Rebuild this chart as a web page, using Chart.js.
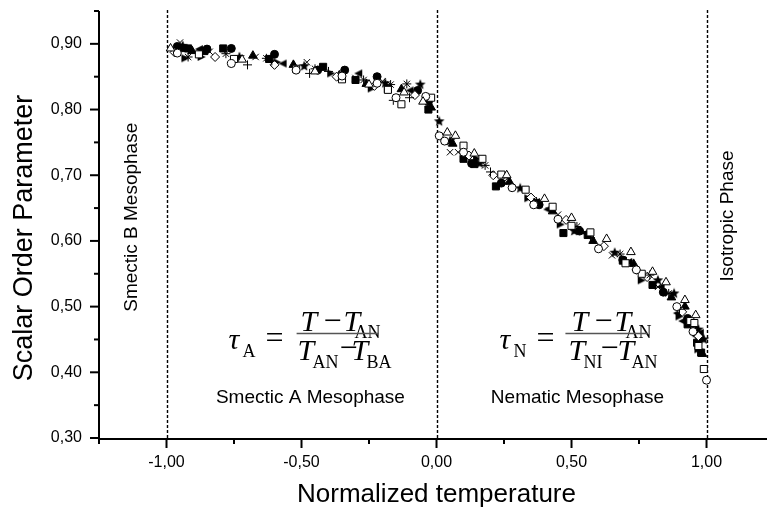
<!DOCTYPE html>
<html><head><meta charset="utf-8">
<script src="https://cdn.jsdelivr.net/npm/chart.js@4"></script>
<style>html,body{margin:0;padding:0;background:#fff;overflow:hidden}canvas{display:block}</style>
</head><body>
<canvas id="c" width="767" height="514"></canvas>
<script>
// ---- tick values ----
const xMajorTicks = [-1, -0.5, 0, 0.5, 1];
const xMinorTicks = [-1.25, -0.75, -0.25, 0.25, 0.75];
const yMajorTicks = [0.3, 0.4, 0.5, 0.6, 0.7, 0.8, 0.9];
const yMinorTicks = [0.35, 0.45, 0.55, 0.65, 0.75, 0.85, 0.95];
const phaseBoundaries = [-1, 0, 1];

// ---- series values [normalized temperature, order parameter] ----
const openTriangle = [[-0.985,0.893],[-0.72,0.876],[-0.45,0.858],[-0.25,0.838],[-0.12,0.826],[-0.05,0.812],
  [0.04,0.765],[0.07,0.760],[0.14,0.733],[0.26,0.700],[0.40,0.664],[0.50,0.635],[0.63,0.603],[0.72,0.583],[0.80,0.553],[0.85,0.537],[0.92,0.510],[0.96,0.487]];
const openCircle = [[-0.96,0.886],[-0.76,0.870],[-0.52,0.860],[-0.35,0.851],[-0.22,0.840],[-0.15,0.818],[-0.04,0.820],
  [0.01,0.760],[0.03,0.752],[0.10,0.735],[0.28,0.681],[0.36,0.655],[0.45,0.633],[0.60,0.588],[0.74,0.556],[0.89,0.500],[0.95,0.462],[1.0,0.388]];
const openSquare = [[-0.88,0.884],[-0.75,0.877],[-0.52,0.862],[-0.35,0.846],[-0.18,0.830],[-0.13,0.808],[-0.02,0.818],
  [0.10,0.745],[0.17,0.725],[0.24,0.701],[0.33,0.678],[0.43,0.652],[0.50,0.623],[0.57,0.613],[0.70,0.566],[0.76,0.550],[0.94,0.478],[0.955,0.475],[0.97,0.440],[0.99,0.405]];
const xCross = [[-0.95,0.902],[-0.84,0.888],[-0.67,0.880],[-0.48,0.872],[-0.30,0.848],[-0.20,0.843],
  [0.05,0.735],[0.08,0.735],[0.25,0.690],[0.45,0.640],[0.65,0.578],[0.82,0.530]];
const asterisk = [[-0.92,0.880],[-0.78,0.885],[-0.63,0.878],[-0.45,0.862],[-0.27,0.845],[-0.17,0.838],[-0.11,0.839],
  [0.18,0.715],[0.37,0.660],[0.52,0.622],[0.68,0.580],[0.79,0.548],[0.86,0.520],[0.95,0.470]];
const plusMark = [[-0.70,0.868],[-0.61,0.874],[-0.47,0.855],[-0.40,0.858],[-0.16,0.814],[-0.10,0.818],
  [0.20,0.705],[0.42,0.650],[0.57,0.605],[0.74,0.556],[0.90,0.496]];
const openDiamond = [[-0.97,0.887],[-0.82,0.880],[-0.60,0.868],[-0.37,0.850],[-0.23,0.836],[-0.08,0.822],
  [0.12,0.730],[0.21,0.700],[0.35,0.666],[0.48,0.632],[0.62,0.592],[0.78,0.545],[0.91,0.492],[0.97,0.455]];
const filledCircle = [[-0.96,0.896],[-0.85,0.892],[-0.76,0.893],[-0.60,0.884],[-0.44,0.860],[-0.34,0.860],[-0.22,0.850],[-0.07,0.829],[-0.03,0.812],
  [0.13,0.718],[0.24,0.688],[0.38,0.655],[0.53,0.615],[0.69,0.571],[0.84,0.522],[0.93,0.482],[0.955,0.468],[0.975,0.452]];
const filledSquare = [[-0.92,0.893],[-0.86,0.889],[-0.79,0.893],[-0.62,0.877],[-0.42,0.865],[-0.30,0.845],[-0.18,0.831],[-0.03,0.800],
  [0.10,0.725],[0.14,0.717],[0.22,0.683],[0.37,0.658],[0.47,0.612],[0.56,0.609],[0.69,0.570],[0.80,0.533],[0.93,0.473],[0.965,0.445],[0.98,0.430]];
const filledTriangle = [[-0.94,0.892],[-0.905,0.889],[-0.68,0.882],[-0.53,0.868],[-0.36,0.852],[-0.26,0.839],[-0.13,0.831],[-0.02,0.803],
  [0.06,0.748],[0.27,0.690],[0.43,0.645],[0.58,0.600],[0.73,0.565],[0.87,0.514],[0.92,0.500],[0.945,0.476],[0.985,0.428]];
const rightTriangle = [[-0.93,0.878],[-0.87,0.880],[-0.59,0.872],[-0.39,0.855],[-0.24,0.832],
  [0.15,0.725],[0.34,0.665],[0.46,0.625],[0.61,0.590],[0.76,0.540],[0.90,0.485],[0.97,0.435]];
const leftTriangle = [[-0.88,0.892],[-0.57,0.870],[-0.29,0.855],[-0.10,0.829],
  [0.25,0.700],[0.41,0.648],[0.55,0.612],[0.71,0.568],[0.83,0.530],[0.89,0.490],[0.91,0.478],[0.96,0.455],[0.975,0.460]];
const filledStar = [[-0.94,0.897],[-0.73,0.880],[-0.49,0.866],[-0.19,0.840],[-0.06,0.838],
  [0.01,0.782],[0.05,0.752],[0.16,0.718],[0.31,0.680],[0.51,0.615],[0.66,0.582],[0.82,0.540],[0.88,0.520],[0.97,0.465],[0.99,0.450]];

// ---- custom marker images ----
function markerCanvas(size, drawFn){
  const cv = document.createElement('canvas'); cv.width = size; cv.height = size;
  const g = cv.getContext('2d'); g.fillStyle = '#000'; drawFn(g, size); return cv;
}
const starImg = markerCanvas(12, (g,s)=>{ const c=s/2, R=5.6, r=2.4; g.beginPath();
  for(let i=0;i<10;i++){ const a=-Math.PI/2+i*Math.PI/5, rr=i%2?r:R; g.lineTo(c+rr*Math.cos(a), c+rr*Math.sin(a)); }
  g.closePath(); g.fill(); });
const rightTriImg = markerCanvas(10, (g,s)=>{ g.beginPath(); g.moveTo(1,1); g.lineTo(9,5); g.lineTo(1,9); g.closePath(); g.fill(); });
const leftTriImg = markerCanvas(10, (g,s)=>{ g.beginPath(); g.moveTo(9,1); g.lineTo(1,5); g.lineTo(9,9); g.closePath(); g.fill(); });

function ds(label, data, style, radius, filled){
  return { label, data: data.map(p=>({x:p[0], y:p[1]})), pointStyle: style, pointRadius: radius,
    pointHoverRadius: radius, showLine:false, borderWidth:1, pointBorderWidth:1,
    borderColor:'#000', backgroundColor: filled ? '#000' : '#fff' };
}
const datasets = [
  ds('open triangle', openTriangle, 'triangle', 5, false),
  ds('open circle', openCircle, 'circle', 4, false),
  ds('open square', openSquare, 'rect', 5, false),
  ds('cross', xCross, 'crossRot', 4.5, false),
  ds('asterisk', asterisk, 'star', 4.5, false),
  ds('plus', plusMark, 'cross', 4.5, false),
  ds('open diamond', openDiamond, 'rectRot', 4.5, false),
  ds('filled circle', filledCircle, 'circle', 4, true),
  ds('filled square', filledSquare, 'rect', 5, true),
  ds('filled triangle', filledTriangle, 'triangle', 5, true),
  ds('right triangle', rightTriangle, rightTriImg, 5, true),
  ds('left triangle', leftTriangle, leftTriImg, 5, true),
  ds('filled star', filledStar, starImg, 5.5, true)
];

const fmt = v => v.toFixed(2).replace('.', ',');
const SANS = '"Liberation Sans", Arial, sans-serif';
const SERIF = '"Liberation Serif", "Times New Roman", serif';

function drawFormula(ctx, x0, yL, tokens, lineFrom, lineTo){
  ctx.save();
  ctx.fillStyle = '#000'; ctx.textBaseline = 'alphabetic'; ctx.textAlign = 'left';
  tokens.forEach(tk => {
    if (tk.k === 'it') ctx.font = 'italic 30px ' + SERIF;
    else if (tk.k === 'op') ctx.font = '32px ' + SERIF;
    else ctx.font = '18px ' + SERIF;
    ctx.fillText(tk.t, x0 + tk.dx, yL + tk.dy);
  });
  ctx.strokeStyle = '#555'; ctx.lineWidth = 1.5;
  ctx.beginPath(); ctx.moveTo(x0 + lineFrom, yL); ctx.lineTo(x0 + lineTo, yL); ctx.stroke();
  ctx.restore();
}
const formulaA = [
  {t:'\u03C4', k:'it', dx:0, dy:15}, {t:'A', k:'sub', dx:14, dy:23}, {t:'=', k:'op', dx:37, dy:14},
  {t:'T', k:'it', dx:72, dy:-3}, {t:'\u2212', k:'op', dx:95, dy:-3}, {t:'T', k:'it', dx:115, dy:-3}, {t:'AN', k:'sub', dx:126, dy:4},
  {t:'T', k:'it', dx:69, dy:26}, {t:'AN', k:'sub', dx:84, dy:34}, {t:'\u2212', k:'op', dx:111, dy:24}, {t:'T', k:'it', dx:123, dy:26}, {t:'BA', k:'sub', dx:138, dy:34}
];
const formulaN = [
  {t:'\u03C4', k:'it', dx:0, dy:15}, {t:'N', k:'sub', dx:14, dy:23}, {t:'=', k:'op', dx:37, dy:14},
  {t:'T', k:'it', dx:72, dy:-3}, {t:'\u2212', k:'op', dx:95, dy:-3}, {t:'T', k:'it', dx:115, dy:-3}, {t:'AN', k:'sub', dx:126, dy:4},
  {t:'T', k:'it', dx:69, dy:26}, {t:'NI', k:'sub', dx:84, dy:34}, {t:'\u2212', k:'op', dx:101, dy:24}, {t:'T', k:'it', dx:118, dy:26}, {t:'AN', k:'sub', dx:132, dy:34}
];

const decor = {
  id: 'decor',
  beforeDatasetsDraw(chart){
    const {ctx, chartArea:a, scales:{x, y}} = chart;
    ctx.save();
    ctx.strokeStyle = '#000'; ctx.lineWidth = 1.4; ctx.setLineDash([3, 2]);
    phaseBoundaries.forEach(v => { const px = Math.round(x.getPixelForValue(v)) + 0.5;
      ctx.beginPath(); ctx.moveTo(px, a.top - 1); ctx.lineTo(px, a.bottom); ctx.stroke(); });
    ctx.restore();
  },
  afterDraw(chart){
    const {ctx, chartArea:a, scales:{x, y}} = chart;
    ctx.save();
    ctx.strokeStyle = '#000'; ctx.lineWidth = 2; ctx.setLineDash([]);
    // axes
    ctx.beginPath(); ctx.moveTo(a.left, a.top); ctx.lineTo(a.left, a.bottom + 1); ctx.lineTo(a.right, a.bottom + 1); ctx.stroke();
    // ticks
    yMajorTicks.forEach(v => { const py = y.getPixelForValue(v); ctx.beginPath(); ctx.moveTo(a.left - 9, py); ctx.lineTo(a.left, py); ctx.stroke(); });
    yMinorTicks.forEach(v => { const py = y.getPixelForValue(v); ctx.beginPath(); ctx.moveTo(a.left - 5, py); ctx.lineTo(a.left, py); ctx.stroke(); });
    xMajorTicks.forEach(v => { const px = x.getPixelForValue(v); ctx.beginPath(); ctx.moveTo(px, a.bottom); ctx.lineTo(px, a.bottom + 10); ctx.stroke(); });
    xMinorTicks.forEach(v => { const px = x.getPixelForValue(v); ctx.beginPath(); ctx.moveTo(px, a.bottom); ctx.lineTo(px, a.bottom + 6); ctx.stroke(); });
    // axis titles
    ctx.fillStyle = '#000'; ctx.textAlign = 'center'; ctx.textBaseline = 'middle';
    ctx.font = '26px ' + SANS;
    ctx.fillText('Normalized temperature', x.getPixelForValue(0), 495);
    ctx.font = '27px ' + SANS;
    ctx.save(); ctx.translate(25, y.getPixelForValue(0.6044)); ctx.rotate(-Math.PI/2);
    ctx.fillText('Scalar Order Parameter', 0, 0); ctx.restore();
    // phase labels
    ctx.font = '19px ' + SANS;
    ctx.fillText('Smectic A Mesophase', x.getPixelForValue(-0.467), y.getPixelForValue(0.361));
    ctx.fillText('Nematic Mesophase', x.getPixelForValue(0.522), y.getPixelForValue(0.361));
    ctx.save(); ctx.translate(x.getPixelForValue(-1.13), y.getPixelForValue(0.636)); ctx.rotate(-Math.PI/2);
    ctx.fillText('Smectic B Mesophase', 0, 0); ctx.restore();
    ctx.save(); ctx.translate(x.getPixelForValue(1.078), y.getPixelForValue(0.638)); ctx.rotate(-Math.PI/2);
    ctx.fillText('Isotropic Phase', 0, 0); ctx.restore();
    ctx.restore();
    // formulas
    drawFormula(ctx, x.getPixelForValue(-0.77), y.getPixelForValue(0.459), formulaA, 68, 150);
    drawFormula(ctx, x.getPixelForValue(0.233), y.getPixelForValue(0.459), formulaN, 66, 148);
  }
};

new Chart(document.getElementById('c'), {
  type: 'scatter',
  data: { datasets },
  options: {
    responsive: false, animation: false, clip: false,
    layout: { autoPadding: false, padding: { top: 11, right: 0, left: 0, bottom: 0 } },
    plugins: { legend: { display: false }, tooltip: { enabled: false } },
    scales: {
      x: { type: 'linear', min: -1.25, max: 1.224,
        afterFit: s => { s.height = 76; s.paddingLeft = 0; s.paddingRight = 0; },
        afterBuildTicks: s => { s.ticks = xMajorTicks.map(v => ({ value: v })); },
        grid: { display: false, drawTicks: false }, border: { display: false },
        ticks: { color: '#000', padding: 15, font: { family: SANS, size: 16 }, callback: v => fmt(v) } },
      y: { type: 'linear', min: 0.3, max: 0.95,
        afterFit: s => { s.width = 99; s.paddingTop = 0; s.paddingBottom = 0; },
        afterBuildTicks: s => { s.ticks = yMajorTicks.map(v => ({ value: v })); },
        grid: { display: false, drawTicks: false }, border: { display: false },
        ticks: { color: '#000', padding: 17, font: { family: SANS, size: 16 }, callback: v => fmt(v) } }
    }
  },
  plugins: [decor]
});
</script>
</body></html>
